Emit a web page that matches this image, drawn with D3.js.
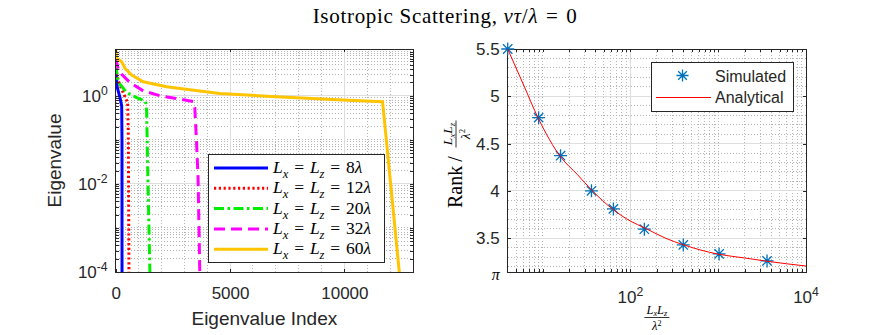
<!DOCTYPE html>
<html>
<head>
<meta charset="utf-8">
<title>Isotropic Scattering rank</title>
<style>
    body { margin: 0; background: #fff; }
    svg { font-family: "Liberation Sans", Arial, sans-serif; }
    .grid-major line { stroke: #dedede; stroke-width: 1; shape-rendering: crispEdges; }
    .grid-minor line { stroke: #b4b4b4; stroke-width: 1; stroke-dasharray: 1,2; shape-rendering: crispEdges; }
    .frame { fill: none; stroke: #262626; stroke-width: 1; shape-rendering: crispEdges; }
    .ticks line { stroke: #262626; shape-rendering: crispEdges; }
    .ticks path { display: none; }
    .ticks text { fill: #262626; font-size: 17px; font-family: "Liberation Sans", Arial, sans-serif; }
    .lbl { fill: #262626; }
    .math { font-family: "Liberation Serif", "Times New Roman", serif; fill: #000; white-space: pre; }
</style>
</head>
<body>
<script src="https://cdnjs.cloudflare.com/ajax/libs/d3/7.8.5/d3.min.js"></script>
<script>
    // ---- left panel: eigenvalue spectra ----
    var sideLabels = ["8", "12", "20", "32", "60"];

    var index8  = [0, 70, 188, 262, 275, 277];
    var eigen8  = [4.0, 1.53, 0.91, 0.59, 0.095, 0.00005];

    var index12 = [0, 113, 262, 449, 523, 550, 580, 585];
    var eigen12 = [4.35, 2.17, 1.41, 0.84, 0.70, 0.16, 0.0001, 0.00005];

    var index20 = [0, 70, 188, 480, 916, 1308, 1352, 1409, 1496, 1510];
    var eigen20 = [5.2, 2.58, 1.83, 1.18, 0.91, 0.74, 0.455, 0.0119, 0.0001, 0.00006];

    var index32 = [0, 113, 262, 624, 1204, 1932, 2804, 3384, 3458, 3532, 3602, 3676, 3700];
    var eigen32 = [7.2, 4.0, 3.08, 1.99, 1.29, 1.0, 0.84, 0.74, 0.54, 0.095, 0.014, 0.0001, 0.00006];

    var index60 = [0, 44, 262, 406, 698, 1204, 2224, 3676, 4549, 7022, 9926, 11670, 12400, 12440];
    var eigen60 = [11.5, 7.06, 5.9, 4.19, 2.95, 2.08, 1.6, 1.28, 1.13, 0.95, 0.80, 0.73, 0.0001, 0.00006];

    var indexTicks = [0, 5000, 10000];
    var eigenTicks = [1, 1e-2, 1e-4];
    var eigenTickExp = ["0", "-2", "-4"];

    // ---- right panel: normalised rank vs area ----
    var areaSim = [4, 9, 16, 36, 64, 144, 400, 1024, 3600];
    var rankSim = [5.5, 4.774, 4.372, 4.0, 3.809, 3.594, 3.428, 3.333, 3.259];

    var areaAna = [4, 6, 9, 16, 25, 36, 64, 100, 144, 250, 400, 1000, 2000, 3600, 10000];
    var rankAna = [5.5, 5.13, 4.76, 4.36, 4.17, 4.01, 3.80, 3.68, 3.61, 3.50, 3.43, 3.33, 3.29, 3.255, 3.205];

    var areaTicks = [100, 10000];
    var areaTickExp = ["2", "4"];
    var rankTicks = [Math.PI, 3.5, 4, 4.5, 5, 5.5];
    var rankTickLabels = ["π", "3.5", "4", "4.5", "5", "5.5"];

    var series = [
        {idx: index8,  val: eigen8,  color: "#0000ff", dash: null},
        {idx: index12, val: eigen12, color: "#ff0000", dash: "2.2,2.6"},
        {idx: index20, val: eigen20, color: "#00ee00", dash: "10,3.5,2.5,3.5"},
        {idx: index32, val: eigen32, color: "#ff00ff", dash: "11,6"},
        {idx: index60, val: eigen60, color: "#ffc400", dash: null}
    ];

    var svg = d3.select("body").append("svg")
        .attr("width", 889)
        .attr("height", 335);

    // latex-ish text helper: parts are {t, it, sub, sup}
    function addMath(text, parts, size, opt) {
        opt = opt || {sub: 0.28, sup: 0.42, scale: 0.72};
        var shift = 0;
        parts.forEach(function(p) {
            var target = p.sub ? size * opt.sub : (p.sup ? -size * opt.sup : 0);
            text.append("tspan")
                .attr("dy", target - shift)
                .style("font-size", (p.sub || p.sup ? size * opt.scale : size) + "px")
                .style("font-style", p.it ? "italic" : "normal")
                .text(p.t);
            shift = target;
        });
        return text;
    }

    var eq = "\u2004=\u2004";

    // title
    addMath(svg.append("text").attr("class", "math")
        .attr("x", 445).attr("y", 23).attr("text-anchor", "middle")
        .style("letter-spacing", "0.7px"),
        [{t: "Isotropic Scattering, "}, {t: "vτ", it: 1}, {t: "/"}, {t: "λ", it: 1}, {t: eq + "0"}], 21);

    // ================= left panel =================
    var L = {left: 115.7, right: 413, top: 49, bottom: 272};
    var xL = d3.scaleLinear().domain([0, 13000]).range([L.left, L.right]);
    var yL = d3.scaleLog().domain([1e-4, 11.5]).range([L.bottom, L.top]);

    var gL = svg.append("g");
    var xMinorL = d3.range(1000, 13000, 1000).filter(function(d) { return d % 5000 != 0; });
    var yMinorL = yL.ticks().filter(function(d) { return eigenTicks.indexOf(d) < 0 && d < 11.5; });
    yMinorL = yMinorL.concat([10]);

    gL.append("g").attr("class", "grid-minor").selectAll("line")
        .data(xMinorL).enter().append("line")
        .attr("x1", xL).attr("x2", xL).attr("y1", L.top).attr("y2", L.bottom);
    gL.append("g").attr("class", "grid-minor").selectAll("line")
        .data(yMinorL).enter().append("line")
        .attr("x1", L.left).attr("x2", L.right).attr("y1", yL).attr("y2", yL);
    gL.append("g").attr("class", "grid-major").selectAll("line")
        .data(indexTicks.slice(1)).enter().append("line")
        .attr("x1", xL).attr("x2", xL).attr("y1", L.top).attr("y2", L.bottom);
    gL.append("g").attr("class", "grid-major").selectAll("line")
        .data(eigenTicks.slice(0, 2)).enter().append("line")
        .attr("x1", L.left).attr("x2", L.right).attr("y1", yL).attr("y2", yL);

    svg.append("clipPath").attr("id", "clipL").append("rect")
        .attr("x", L.left).attr("y", L.top - 2)
        .attr("width", L.right - L.left).attr("height", L.bottom - L.top + 2);

    var lineL = d3.line()
        .x(function(d) { return xL(d[0]); })
        .y(function(d) { return yL(d[1]); });

    gL.append("g").attr("clip-path", "url(#clipL)").selectAll("path")
        .data(series).enter().append("path")
        .attr("d", function(s) { return lineL(d3.zip(s.idx, s.val)); })
        .attr("fill", "none")
        .attr("stroke", function(s) { return s.color; })
        .attr("stroke-width", 3)
        .attr("stroke-dasharray", function(s) { return s.dash; });

    gL.append("rect").attr("class", "frame")
        .attr("x", L.left).attr("y", L.top)
        .attr("width", L.right - L.left).attr("height", L.bottom - L.top);

    // ticks (inward, on all four sides)
    gL.append("g").attr("class", "ticks").attr("transform", "translate(0," + L.bottom + ")")
        .call(d3.axisBottom(xL).tickValues(indexTicks).tickSize(-3).tickPadding(15).tickFormat(d3.format("d")));
    gL.append("g").attr("class", "ticks").attr("transform", "translate(0," + L.top + ")")
        .call(d3.axisTop(xL).tickValues(indexTicks).tickSize(-3).tickFormat(""));
    [[L.left, d3.axisLeft], [L.right, d3.axisRight]].forEach(function(a) {
        gL.append("g").attr("class", "ticks").attr("transform", "translate(" + a[0] + ",0)")
            .call(a[1](yL).tickValues(eigenTicks.concat(yMinorL)).tickSize(-3).tickFormat(""));
    });

    eigenTicks.forEach(function(v, i) {
        addMath(svg.append("text").attr("class", "lbl")
            .attr("x", L.left - 8).attr("y", yL(v) + 6).attr("text-anchor", "end"),
            [{t: "10"}, {t: eigenTickExp[i], sup: 1}], 17);
    });

    svg.append("text").attr("class", "lbl")
        .attr("x", (L.left + L.right) / 2).attr("y", 325)
        .attr("text-anchor", "middle").style("font-size", "19px")
        .text("Eigenvalue Index");
    svg.append("text").attr("class", "lbl")
        .attr("transform", "translate(61," + (L.top + L.bottom) / 2 + ") rotate(-90)")
        .attr("text-anchor", "middle").style("font-size", "19px")
        .text("Eigenvalue");

    // legend
    var legL = svg.append("g");
    legL.append("rect").attr("x", 208).attr("y", 154).attr("width", 176).attr("height", 108)
        .attr("fill", "#fff").attr("stroke", "#262626").attr("stroke-width", 1)
        .style("shape-rendering", "crispEdges");
    series.forEach(function(s, i) {
        var yy = 168 + i * 20.3;
        legL.append("line").attr("x1", 214).attr("x2", 268).attr("y1", yy).attr("y2", yy)
            .attr("stroke", s.color).attr("stroke-width", 3)
            .attr("stroke-dasharray", s.dash);
        addMath(legL.append("text").attr("class", "math").attr("x", 273).attr("y", yy + 5),
            [{t: "L", it: 1}, {t: "x", it: 1, sub: 1}, {t: eq}, {t: "L", it: 1}, {t: "z", it: 1, sub: 1},
             {t: eq + sideLabels[i]}, {t: "λ", it: 1}], 17.5);
    });

    // ================= right panel =================
    var R = {left: 507.7, right: 806, top: 49, bottom: 272};
    var xR = d3.scaleLog().domain([4, 1e4]).range([R.left, R.right]);
    var yR = d3.scaleLinear().domain([Math.PI, 5.5]).range([R.bottom, R.top]);

    var gR = svg.append("g");
    var xMinorR = xR.ticks().filter(function(d) { return areaTicks.indexOf(d) < 0 && d > 4; });
    var yMinorR = d3.range(32, 55, 1).map(function(d) { return d / 10; })
        .filter(function(d) { return Math.round(d * 10) % 5 != 0; });

    gR.append("g").attr("class", "grid-minor").selectAll("line")
        .data(xMinorR).enter().append("line")
        .attr("x1", xR).attr("x2", xR).attr("y1", R.top).attr("y2", R.bottom);
    gR.append("g").attr("class", "grid-minor").selectAll("line")
        .data(yMinorR).enter().append("line")
        .attr("x1", R.left).attr("x2", R.right).attr("y1", yR).attr("y2", yR);
    gR.append("g").attr("class", "grid-major").selectAll("line")
        .data([100]).enter().append("line")
        .attr("x1", xR).attr("x2", xR).attr("y1", R.top).attr("y2", R.bottom);
    gR.append("g").attr("class", "grid-major").selectAll("line")
        .data(rankTicks.slice(1, 5)).enter().append("line")
        .attr("x1", R.left).attr("x2", R.right).attr("y1", yR).attr("y2", yR);

    gR.append("rect").attr("class", "frame")
        .attr("x", R.left).attr("y", R.top)
        .attr("width", R.right - R.left).attr("height", R.bottom - R.top);

    [[R.bottom, d3.axisBottom], [R.top, d3.axisTop]].forEach(function(a) {
        gR.append("g").attr("class", "ticks").attr("transform", "translate(0," + a[0] + ")")
            .call(a[1](xR).tickValues(areaTicks.concat(xMinorR)).tickSize(-3).tickFormat(""));
    });
    [[R.left, d3.axisLeft], [R.right, d3.axisRight]].forEach(function(a) {
        gR.append("g").attr("class", "ticks").attr("transform", "translate(" + a[0] + ",0)")
            .call(a[1](yR).tickValues(rankTicks).tickSize(-3).tickFormat(""));
    });

    // asterisk marker like matlab '*'
    function star(r) {
        var a = r * 0.72;
        return "M0," + (-r) + "L0," + r + "M" + (-r) + ",0L" + r + ",0" +
            "M" + (-a) + "," + (-a) + "L" + a + "," + a + "M" + (-a) + "," + a + "L" + a + "," + (-a);
    }

    gR.append("g").selectAll("path")
        .data(d3.zip(areaSim, rankSim)).enter().append("path")
        .attr("transform", function(d) { return "translate(" + xR(d[0]) + "," + yR(d[1]) + ")"; })
        .attr("d", star(6.5))
        .attr("fill", "none").attr("stroke", "#0072bd").attr("stroke-width", 1.3);

    gR.append("path")
        .attr("d", d3.line()
            .x(function(d) { return xR(d[0]); })
            .y(function(d) { return yR(d[1]); })
            .curve(d3.curveMonotoneX)(d3.zip(areaAna, rankAna)))
        .attr("fill", "none").attr("stroke", "#ff0000").attr("stroke-width", 1);

    // tick labels
    areaTicks.forEach(function(v, i) {
        addMath(svg.append("text").attr("class", "lbl")
            .attr("x", xR(v)).attr("y", 303).attr("text-anchor", "middle"),
            [{t: "10"}, {t: areaTickExp[i], sup: 1}], 17);
    });
    rankTicks.forEach(function(v, i) {
        var t = svg.append("text").attr("class", "lbl")
            .attr("x", R.left - 8).attr("y", yR(v) + 6).attr("text-anchor", "end")
            .style("font-size", "17px").text(rankTickLabels[i]);
        if (i == 0) t.attr("class", "math").style("font-style", "italic").style("font-size", "16px").attr("y", yR(v) + 8);
    });

    // fraction Lx Lz / lambda^2, centred on the bar
    var fracOpt = {sub: 0.2, sup: 0.33, scale: 0.65};
    function fraction(g, size) {
        addMath(g.append("text").attr("class", "math").attr("x", 0).attr("y", -4).attr("text-anchor", "middle"),
            [{t: "L", it: 1}, {t: "x", it: 1, sub: 1}, {t: "L", it: 1}, {t: "z", it: 1, sub: 1}], size, fracOpt);
        g.append("line").attr("x1", -size * 1.0).attr("x2", size * 1.0).attr("y1", 0).attr("y2", 0)
            .attr("stroke", "#000").attr("stroke-width", 0.8);
        addMath(g.append("text").attr("class", "math").attr("x", 0).attr("y", size).attr("text-anchor", "middle"),
            [{t: "λ", it: 1}, {t: "2", sup: 1}], size, fracOpt);
    }
    fraction(svg.append("g").attr("transform", "translate(" + (R.left + R.right) / 2 + ",317.5)"), 12.5);

    // y label: Rank / fraction
    var yLab = svg.append("g").attr("transform", "translate(462,208) rotate(-90)");
    yLab.append("text").attr("class", "math").attr("x", 0).attr("y", 0)
        .style("font-size", "20px").text("Rank\u2009/");
    fraction(yLab.append("g").attr("transform", "translate(74,-6)"), 13.5);

    // legend
    var legR = svg.append("g");
    legR.append("rect").attr("x", 651).attr("y", 62).attr("width", 142).attr("height", 49)
        .attr("fill", "#fff").attr("stroke", "#262626").attr("stroke-width", 1)
        .style("shape-rendering", "crispEdges");
    legR.append("path").attr("transform", "translate(682.5,75.5)").attr("d", star(6))
        .attr("fill", "none").attr("stroke", "#0072bd").attr("stroke-width", 1.3);
    legR.append("line").attr("x1", 656).attr("x2", 711).attr("y1", 97.5).attr("y2", 97.5)
        .attr("stroke", "#ff0000").attr("stroke-width", 1.2);
    legR.append("text").attr("class", "lbl").attr("x", 715).attr("y", 81.5)
        .style("font-size", "16px").text("Simulated");
    legR.append("text").attr("class", "lbl").attr("x", 715).attr("y", 103)
        .style("font-size", "16px").text("Analytical");
</script>
</body>
</html>
